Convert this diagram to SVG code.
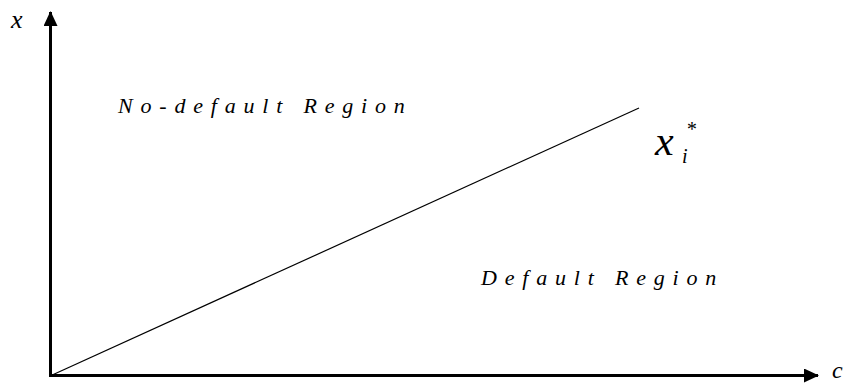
<svg xmlns="http://www.w3.org/2000/svg" width="847" height="383" viewBox="0 0 847 383">
<style>
text{font-family:"Liberation Serif","Times New Roman","DejaVu Serif",serif;font-style:italic;fill:#000}
.reg{font-size:22px;letter-spacing:7.8px}
.axis{stroke:#000;stroke-width:3;fill:none}
</style>
<defs>
<marker id="ah" markerWidth="15" markerHeight="14" refX="14" refY="7" orient="auto" markerUnits="userSpaceOnUse">
<path d="M0,0 L15,7 L0,14 Z" fill="#000"/>
</marker>
</defs>
<rect width="847" height="383" fill="#fff"/>
<g id="connectors">
<line class="axis" x1="50.5" y1="377" x2="50.5" y2="12" marker-end="url(#ah)"/>
<line class="axis" x1="49" y1="375.5" x2="818" y2="375.5" marker-end="url(#ah)"/>
<line x1="50" y1="376" x2="639" y2="108" stroke="#000" stroke-width="1.2"/>
</g>
<g id="label-x"><text x="11" y="28" font-size="26" font-family="Liberation Serif, serif">x</text></g>
<g id="label-c"><text x="832" y="378" font-size="24" font-family="Liberation Serif, serif">c</text></g>
<g id="no-default"><text class="reg" x="118" y="113" font-family="Liberation Serif, serif">No-default Region</text></g>
<g id="default"><text class="reg" x="481" y="285" font-family="Liberation Serif, serif">Default Region</text></g>
<g id="xi-star" font-family="Liberation Serif, serif">
<text x="655" y="155" font-size="42">x</text>
<text x="682" y="163" font-size="20">i</text>
<text x="686" y="136" font-size="20">*</text>
</g>
</svg>
